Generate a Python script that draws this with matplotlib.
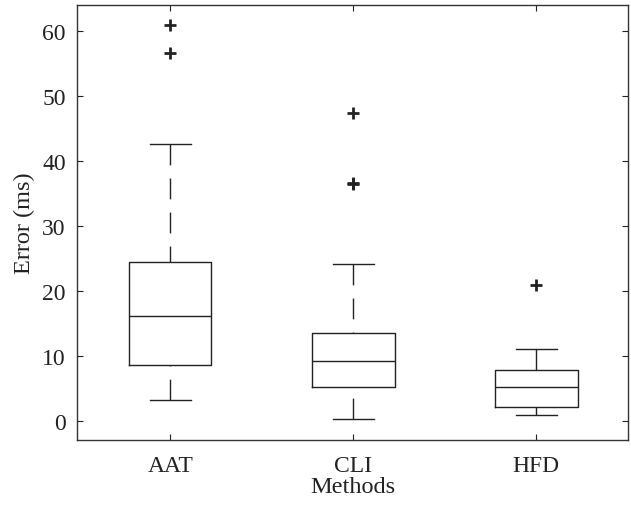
import numpy as np
import matplotlib as mpl
import matplotlib.pyplot as plt
mpl.use('agg')

##--##--  box statistics  --##--##
methods = ['AAT', 'CLI', 'HFD']
whislo = [3.3, 0.3, 0.95]
q1 = [8.65, 5.2, 2.25]
med = [16.1, 9.3, 5.2]
q3 = [24.4, 13.5, 7.85]
whishi = [42.6, 24.1, 11.1]
fliers = [[60.9, 56.5], [47.35, 36.5, 36.6], [20.9]]

stats = []
for i in range(len(methods)):
  stats.append(dict(label=methods[i], whislo=whislo[i], q1=q1[i], med=med[i],
                    q3=q3[i], whishi=whishi[i], fliers=fliers[i]))

plt.rcParams['font.family'] = ['Liberation Serif', 'DejaVu Serif']
plt.rcParams['lines.scale_dashes'] = False

fig = plt.figure(figsize=(6.31, 5.10), dpi=100)
ax = plt.axes([0.122, 0.135, 0.873, 0.853])

lc = '#222222'
bp = ax.bxp(stats, positions=[1, 2, 3], widths=0.45, showfliers=True,
            boxprops=dict(color=lc, linewidth=1.0),
            medianprops=dict(color=lc, linewidth=1.0),
            whiskerprops=dict(color=lc, linewidth=1.0, linestyle=(0, (15, 9.5))),
            capprops=dict(color=lc, linewidth=1.0),
            flierprops=dict(marker='+', markersize=8, markeredgewidth=2.0,
                            markeredgecolor='#222222', linestyle='none'),
            capwidths=0.225)

## dashes start at the cap end, like matlab
for w in bp['whiskers']:
  xd, yd = w.get_data()
  w.set_data(xd[::-1], yd[::-1])

ax.set_xlim(0.49, 3.5)
ax.set_ylim(-2.9, 63.9)
ax.set_yticks([0, 10, 20, 30, 40, 50, 60])
ax.set_xticks([1, 2, 3])
ax.set_xticklabels(methods)
ax.tick_params(axis='both', direction='in', length=4, width=0.8, labelsize=17,
               top=True, right=True, colors=lc)
ax.tick_params(axis='x', pad=11)
ax.tick_params(axis='y', pad=8)
for s in ax.spines.values():
  s.set_linewidth(1.0)
  s.set_color('#333333')

ax.set_xlabel('Methods', size=17.5, color=lc, labelpad=0)
ax.set_ylabel('Error (ms)', size=17.5, color=lc, labelpad=5)

fig.savefig('out.png', dpi=100)
